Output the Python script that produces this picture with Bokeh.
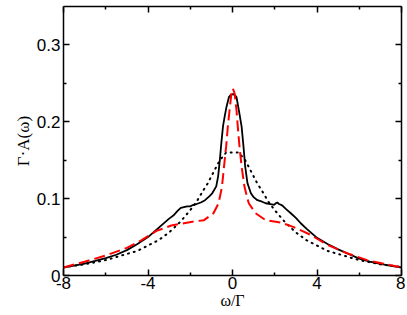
from bokeh.plotting import figure
from bokeh.models import Range1d, FixedTicker, LinearAxis, CustomJSTickFormatter
from bokeh.embed import file_html
from bokeh.resources import INLINE

# Solid black curve
black_x = [-8.0, -7.5, -7.0, -6.5, -6.0, -5.5, -5.0, -4.5, -4.0, -3.5, -3.0, -2.8, -2.6, -2.45, -2.3,
           -2.15, -2.0, -1.85, -1.7, -1.5, -1.3, -1.1, -0.96, -0.77, -0.68, -0.6, -0.53, -0.45, -0.37,
           -0.28, -0.17, -0.08, 0.02, 0.1, 0.19, 0.3, 0.43, 0.52, 0.6, 0.71, 0.87, 1.0, 1.18, 1.4, 1.57,
           1.8, 1.97, 2.05, 2.12, 2.2, 2.3, 2.4, 2.55, 2.76, 3.0, 3.23, 3.5, 4.0, 4.5, 5.0, 5.5, 6.0,
           6.5, 7.0, 7.5, 8.0]
black_y = [0.0104, 0.0128, 0.0156, 0.019, 0.0225, 0.027, 0.033, 0.041, 0.050, 0.062, 0.074, 0.078,
           0.084, 0.088, 0.089, 0.090, 0.090, 0.092, 0.093, 0.095, 0.098, 0.103, 0.107, 0.116, 0.129,
           0.150, 0.172, 0.194, 0.207, 0.220, 0.232, 0.235, 0.236, 0.235, 0.232, 0.215, 0.194, 0.168,
           0.142, 0.120, 0.107, 0.102, 0.098, 0.096, 0.094, 0.093, 0.092, 0.094, 0.095, 0.093, 0.092,
           0.090, 0.086, 0.081, 0.075, 0.068, 0.061, 0.049, 0.041, 0.034, 0.028, 0.022, 0.018,
           0.0152, 0.0125, 0.0104]

# Red dashed curve
red_x = [-8.0, -7.0, -6.0, -5.0, -4.3, -3.6, -2.9, -2.3, -1.9, -1.35, -0.9, -0.66, -0.5, -0.4, -0.3,
         -0.22, -0.14, -0.05, 0.02, 0.1, 0.19, 0.25, 0.33, 0.43, 0.57, 0.77, 1.09, 1.57, 2.28, 2.9,
         3.69, 4.48, 5.42, 6.37, 7.2, 8.0]
red_y = [0.0104, 0.018, 0.026, 0.036, 0.046, 0.058, 0.065, 0.068, 0.070, 0.072, 0.081, 0.094, 0.115,
         0.142, 0.168, 0.194, 0.215, 0.237, 0.243, 0.237, 0.215, 0.194, 0.168, 0.142, 0.115, 0.094,
         0.081, 0.072, 0.069, 0.063, 0.053, 0.040, 0.029, 0.020, 0.015, 0.0104]

# Dotted black curve
dot_x = [-8.0, -7.0, -6.0, -5.0, -4.5, -4.0, -3.5, -3.0, -2.5, -2.0, -1.7, -1.4, -1.17, -0.85, -0.6,
         -0.3, 0.0, 0.3, 0.6, 0.85, 1.17, 1.4, 1.7, 2.0, 2.5, 3.0, 3.5, 4.0, 4.5, 5.0, 6.0, 7.0, 8.0]
dot_y = [0.011, 0.0145, 0.020, 0.028, 0.032, 0.039, 0.046, 0.056, 0.069, 0.085, 0.096, 0.110, 0.120,
         0.137, 0.150, 0.160, 0.160, 0.160, 0.150, 0.137, 0.120, 0.110, 0.096, 0.085, 0.069, 0.056,
         0.046, 0.039, 0.032, 0.028, 0.020, 0.0145, 0.011]

x_major = [-8, -4, 0, 4, 8]
x_minor = [-6, -2, 2, 6]
y_major = [0, 0.1, 0.2, 0.3]
y_minor = [0.05, 0.15, 0.25]

p = figure(output_backend="svg", toolbar_location=None,
           width=405, height=313,
           x_range=Range1d(-8, 8), y_range=Range1d(0, 0.35),
           min_border_left=63, min_border_top=6, min_border_right=4, min_border_bottom=38,
           x_axis_location=None, y_axis_location=None)
p.background_fill_color = "white"
p.border_fill_color = "white"
p.outline_line_color = None
p.grid.visible = False

fmt_x = CustomJSTickFormatter(code="return String(tick);")
fmt_y = CustomJSTickFormatter(code="return tick == 0 ? '0' : tick.toFixed(1);")
fmt_none = CustomJSTickFormatter(code="return '';")

def style(ax):
    ax.axis_line_color = "black"
    ax.axis_line_width = 1.5
    ax.major_tick_in = 6
    ax.major_tick_out = 0
    ax.minor_tick_in = 3
    ax.minor_tick_out = 0
    ax.major_tick_line_width = 1.5
    ax.minor_tick_line_width = 1.5
    ax.major_label_text_font = "Liberation Sans"
    ax.major_label_text_font_size = "17px"
    ax.major_label_text_color = "black"
    ax.axis_label_text_color = "black"

xb = LinearAxis(ticker=FixedTicker(ticks=x_major, minor_ticks=x_minor), formatter=fmt_x)
style(xb)
xb.major_label_standoff = 1
xb.axis_label = "ω/Γ"
xb.axis_label_text_font = "Liberation Serif"
xb.axis_label_text_font_style = "normal"
xb.axis_label_text_font_size = "16px"
xb.axis_label_standoff = 0
p.add_layout(xb, "below")

xt = LinearAxis(ticker=FixedTicker(ticks=x_major, minor_ticks=x_minor), formatter=fmt_none)
style(xt)
xt.major_label_standoff = 0
p.add_layout(xt, "above")

yl = LinearAxis(ticker=FixedTicker(ticks=y_major, minor_ticks=y_minor), formatter=fmt_y)
style(yl)
yl.major_label_standoff = 3
yl.axis_label = "Γ·A(ω)"
yl.axis_label_text_font = "Liberation Serif"
yl.axis_label_text_font_style = "normal"
yl.axis_label_text_font_size = "17px"
yl.axis_label_standoff = 1
p.add_layout(yl, "left")

yr = LinearAxis(ticker=FixedTicker(ticks=y_major, minor_ticks=y_minor), formatter=fmt_none)
style(yr)
yr.major_label_standoff = 0
p.add_layout(yr, "right")

p.line(dot_x, dot_y, line_color="black", line_width=2, line_dash="1 5", line_cap="round")
p.line(black_x, black_y, line_color="black", line_width=1.8)
p.line(red_x, red_y, line_color="#ff0000", line_width=2, line_dash="11 5")

open("out.html", "w").write(file_html(p, INLINE))
